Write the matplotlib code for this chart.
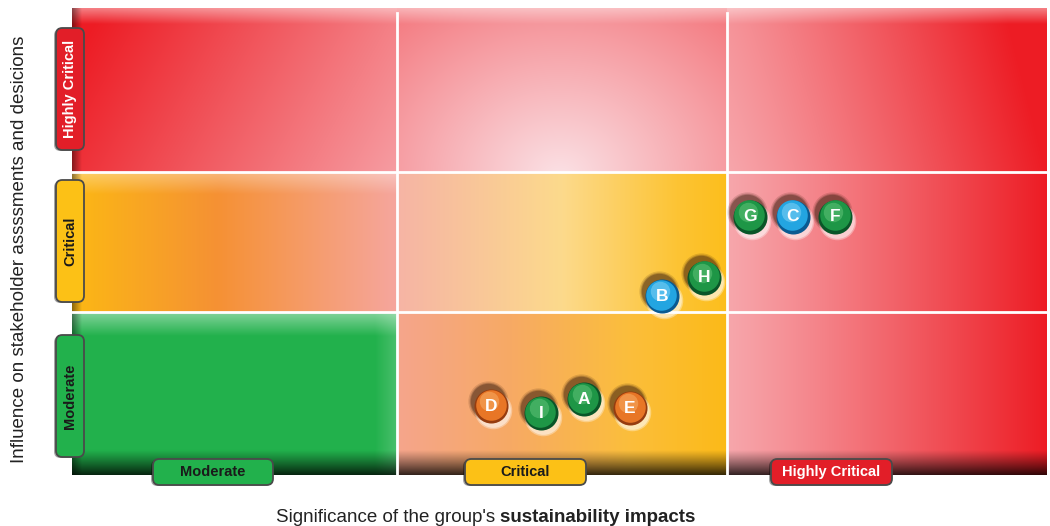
import numpy as np
import matplotlib
matplotlib.use("Agg")
import matplotlib.pyplot as plt
from matplotlib.patches import FancyBboxPatch
from matplotlib.transforms import offset_copy

plt.rcParams['font.family'] = ['Liberation Sans', 'DejaVu Sans']

# ---------------- data ----------------
labels = ['D', 'I', 'A', 'E', 'B', 'H', 'G', 'C', 'F']
significance = [1.29, 1.443, 1.575, 1.717, 1.815, 1.945, 2.086, 2.218, 2.348]
influence = [0.423, 0.380, 0.466, 0.411, 1.098, 1.209, 1.583, 1.583, 1.583]
kinds = ['orange', 'green', 'green', 'orange', 'blue', 'green', 'green', 'blue', 'green']
level_names = ['Moderate', 'Critical', 'Highly Critical']
x_label_regular = "Significance of the group's "
x_label_bold = "sustainability impacts"
y_label = "Influence on stakeholder assssments and desicions"

x_edges = [0, 1.0, 2.015, 3.0]
y_edges = [0, 1.0, 1.86, 2.865]

# ---------------- figure ----------------
W_PX, H_PX = 1050, 526
fig = plt.figure(figsize=(W_PX / 100, H_PX / 100), dpi=100)
AX_L, AX_R, AX_T, AX_B = 72, 1047, 8, 475
ax = fig.add_axes([AX_L / W_PX, 1 - AX_B / H_PX, (AX_R - AX_L) / W_PX, (AX_B - AX_T) / H_PX])
ax.set_xlim(x_edges[0], x_edges[-1])
ax.set_ylim(y_edges[0], y_edges[-1])
ax.set_axis_off()

# ---------------- background image ----------------
H, W = AX_B - AX_T, AX_R - AX_L
X = np.broadcast_to(np.arange(W)[None, :] + AX_L + 0.5, (H, W)).astype(float)
Y = np.broadcast_to(np.arange(H)[:, None] + AX_T + 0.5, (H, W)).astype(float)
c1, c2 = 397, 727
r1, r2 = 172, 312

def rgb(*v):
    return np.array(v, dtype=float) / 255.0

RED = rgb(237, 28, 36)
PINK = rgb(251, 226, 230)

def lerp(a, b, t):
    return a + (b - a) * np.clip(t, 0, 1)[..., None]

def stops(u, pts):
    u = np.clip(u, 0, 1)
    out = np.zeros(u.shape + (3,))
    pos = [p for p, _ in pts]
    cols = np.array([c for _, c in pts])
    for k in range(3):
        out[..., k] = np.interp(u, pos, cols[:, k])
    return out

img = np.zeros((H, W, 3))

# red region: top row + right column
t_tl = 1.05 - 0.55 * (X - 72) / 325 - 0.15 * (Y - 8) / 164
d_tm = np.sqrt(((X - 560) / 380) ** 2 + ((Y - 178) / 330) ** 2)
t_tm = 0.80 * d_tm
u_r = np.clip((X - 727) / 320, 0, 1)
t_r = 0.30 + 0.70 * u_r ** 1.1 + np.where(Y < r1, 0.10 * (1 - (Y - 8) / 164), 0)
t_red = np.where(X >= c2, t_r, np.where(X < c1, t_tl, t_tm))
red_img = lerp(PINK, RED, t_red)

# yellow cells
ml = stops((X - 72) / 325, [(0, rgb(252, 184, 20)), (0.45, rgb(245, 145, 52)), (1, rgb(245, 166, 158))])
mm_u = (X - 397) / 330
mm = stops(mm_u, [(0, rgb(246, 180, 165)), (0.5, rgb(252, 218, 140)), (0.85, rgb(252, 196, 52)), (1, rgb(252, 190, 28))])
bm = stops(mm_u, [(0, rgb(245, 165, 140)), (0.35, rgb(247, 170, 100)), (0.7, rgb(251, 190, 60)), (1, rgb(252, 186, 24))])
green = np.broadcast_to(rgb(34, 177, 76), (H, W, 3))

top_row = Y < r1
mid_row = (Y >= r1) & (Y < r2)
bot_row = Y >= r2
left_col = X < c1
mid_col = (X >= c1) & (X < c2)

img[:] = red_img
img[mid_row & left_col] = ml[mid_row & left_col]
img[mid_row & mid_col] = mm[mid_row & mid_col]
img[bot_row & mid_col] = bm[bot_row & mid_col]
img[bot_row & left_col] = green[bot_row & left_col]

# cell highlights (bevel)
def highlight(mask, y0, depth, strength):
    f = np.clip(1 - (Y - y0) / depth, 0, 1) * strength
    f = np.where(mask, f, 0)
    img[:] = img + (1 - img) * f[..., None]

highlight(top_row, 8, 16, 0.45)
highlight(mid_row & left_col, r1, 22, 0.35)
highlight(bot_row & left_col, r2, 24, 0.45)
fr = np.where(bot_row & left_col, np.clip((X - 375) / 22, 0, 1) * 0.18, 0)
img[:] = img + (1 - img) * fr[..., None]

# left dark edge
fl = np.clip(1 - (X - 72) / 10, 0, 1) * 0.45
img[:] = img * (1 - fl[..., None])
# bottom shadow band
fb = np.clip((Y - 450) / 25, 0, 1) ** 1.1 * 0.8
img[:] = img * (1 - fb[..., None])

ax.imshow(np.clip(img, 0, 1), extent=[x_edges[0], x_edges[-1], y_edges[0], y_edges[-1]],
          origin='upper', aspect='auto', interpolation='bilinear', zorder=0)

# grid lines
for xe in x_edges[1:-1]:
    ax.axvline(xe, ymax=0.99, color='white', lw=2.0, zorder=1)
for ye in y_edges[1:-1]:
    ax.axhline(ye, color='white', lw=2.0, zorder=1)

# ---------------- points ----------------
palette = {
    'green': (rgb(10, 85, 40), rgb(30, 150, 70), rgb(110, 205, 130)),
    'blue': (rgb(10, 90, 145), rgb(35, 165, 225), rgb(150, 220, 250)),
    'orange': (rgb(150, 60, 15), rgb(232, 118, 38), rgb(250, 185, 115)),
}

def off(dx, dy):
    return offset_copy(ax.transData, fig=fig, x=dx, y=dy, units='dots')

for xv, yv, lab, kind in zip(significance, influence, labels, kinds):
    dark, mid, light = palette[kind]
    # white glow below-right
    for sz, a in [(27, 0.35), (25, 0.45)]:
        ax.scatter([xv], [yv], s=sz ** 2, color='white', alpha=a, lw=0,
                   transform=off(2, -4), zorder=2)
    # dark shadow above-left
    for sz, a in [(29, 0.15), (27, 0.25), (25.5, 0.35)]:
        ax.scatter([xv], [yv], s=sz ** 2, color=rgb(60, 30, 15), alpha=a, lw=0,
                   transform=off(-3, 5), zorder=2)
    ax.scatter([xv], [yv], s=24.5 ** 2, color=dark, lw=0, zorder=3)
    ax.scatter([xv], [yv], s=22 ** 2, color=mid, lw=0, transform=off(-0.5, 1.5), zorder=3)
    ax.scatter([xv], [yv], s=14 ** 2, color=light, alpha=0.45, lw=0, transform=off(-2, 5), zorder=3)
    ax.text(xv, yv, lab, color='white', fontsize=12.5, fontweight='bold',
            ha='center', va='center', zorder=4)

# ---------------- tabs ----------------
tab_cols = {
    'Moderate': (rgb(34, 177, 76), '#1a1a1a'),
    'Critical': (rgb(252, 193, 22), '#1a1a1a'),
    'Highly Critical': (rgb(226, 30, 40), 'white'),
}

def px_box(x0, y0, x1, y1):
    return x0 / W_PX, 1 - y1 / H_PX, (x1 - x0) / W_PX, (y1 - y0) / H_PX

def tab(x0, y0, x1, y1, name, rotate):
    face, tc = tab_cols[name]
    fx, fy, fw, fh = px_box(x0, y0, x1, y1)
    shadow = FancyBboxPatch((fx - 2 / W_PX, fy - 1 / H_PX), fw, fh,
                            boxstyle='round,pad=0,rounding_size=0.006',
                            transform=fig.transFigure, facecolor='black', alpha=0.35,
                            lw=0, zorder=5, mutation_aspect=W_PX / H_PX)
    fig.add_artist(shadow)
    p = FancyBboxPatch((fx, fy), fw, fh, boxstyle='round,pad=0,rounding_size=0.006',
                       transform=fig.transFigure, facecolor=face, edgecolor='#4a4a4a',
                       lw=1.3, zorder=6, mutation_aspect=W_PX / H_PX)
    fig.add_artist(p)
    fig.text(fx + fw / 2, fy + fh / 2, name, color=tc, fontsize=10.5, fontweight='bold',
             rotation=90 if rotate else 0, ha='center', va='center', zorder=7)

y_tabs = {'Highly Critical': (28, 150), 'Critical': (180, 302), 'Moderate': (335, 457)}
for name in level_names:
    a, b = y_tabs[name]
    tab(56, a, 84, b, name, True)

x_tabs = {'Moderate': (153, 273), 'Critical': (465, 586), 'Highly Critical': (771, 892)}
for name in level_names:
    a, b = x_tabs[name]
    tab(a, 459, b, 485, name, False)

# ---------------- axis labels ----------------
FS_LABEL = 13.5
t1 = fig.text(0, 1 - 517 / H_PX, x_label_regular, fontsize=FS_LABEL, color='#222222', va='center', ha='left')
t2 = fig.text(0, 1 - 517 / H_PX, x_label_bold, fontsize=FS_LABEL, color='#222222', va='center', ha='left',
              fontweight='bold')
fig.canvas.draw()
r = fig.canvas.get_renderer()
w1 = t1.get_window_extent(r).width
w2 = t2.get_window_extent(r).width
start = 486 - (w1 + w2) / 2
t1.set_x(start / W_PX)
t2.set_x((start + w1) / W_PX)

fig.text(20 / W_PX, 1 - 249 / H_PX, y_label, fontsize=FS_LABEL, color='#222222', rotation=90,
         ha='center', va='center')

fig.savefig('out.png', dpi=100)
